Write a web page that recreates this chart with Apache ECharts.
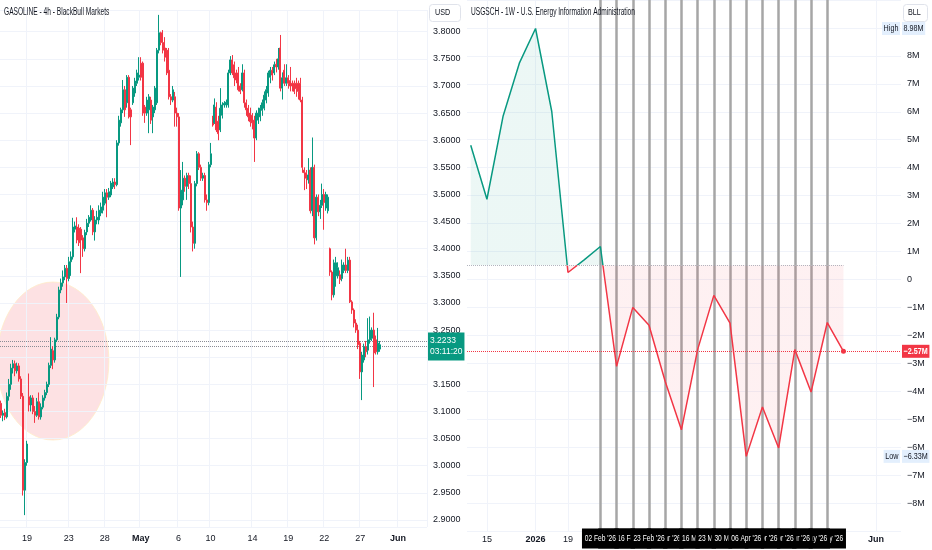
<!DOCTYPE html>
<html><head><meta charset="utf-8">
<script src="https://cdn.jsdelivr.net/npm/echarts@6/dist/echarts.min.js"></script>
<style>html,body{margin:0;padding:0;background:#fff}#c{width:932px;height:550px}</style>
</head><body><div id="c"></div>
<script>
const FONT = "'Liberation Sans','DejaVu Sans',sans-serif";
const TXT = '#131722';
const GRIDC = '#f0f3fa';
const UP = '#089981', DOWN = '#f23645';
const SQ = 0.7; // horizontal squeeze of the reference's lettering

// ---------- Left chart: GASOLINE 4h, [open, close, low, high]
const gasolineOHLC = [
[3.115,3.093,3.088,3.120],[3.093,3.097,3.082,3.102],[3.098,3.090,3.084,3.105],[3.090,3.128,3.087,3.135],
[3.128,3.150,3.120,3.160],[3.150,3.180,3.140,3.188],[3.180,3.188,3.170,3.195],[3.188,3.175,3.165,3.194],
[3.175,3.184,3.170,3.190],[3.184,3.160,3.155,3.189],[3.160,3.128,3.123,3.165],[3.128,2.955,2.945,3.134],
[2.955,3.006,2.909,3.012],[3.006,3.040,3.000,3.046],
[3.127,3.112,3.100,3.170],[3.112,3.125,3.100,3.130],[3.125,3.100,3.095,3.130],[3.100,3.093,3.079,3.110],
[3.093,3.118,3.090,3.125],[3.118,3.090,3.085,3.135],[3.090,3.108,3.085,3.115],[3.108,3.125,3.104,3.130],
[3.125,3.135,3.120,3.140],[3.135,3.150,3.130,3.155],[3.150,3.185,3.145,3.190],[3.185,3.215,3.180,3.237],
[3.212,3.195,3.178,3.220],[3.195,3.232,3.190,3.236],[3.232,3.274,3.228,3.280],[3.274,3.324,3.270,3.330],
[3.324,3.337,3.318,3.345],[3.337,3.348,3.330,3.360],[3.348,3.364,3.342,3.370],[3.364,3.345,3.300,3.370],
[3.345,3.376,3.340,3.385],[3.376,3.385,3.350,3.395],[3.385,3.440,3.380,3.457],[3.436,3.442,3.430,3.450],
[3.440,3.416,3.410,3.458],[3.438,3.411,3.405,3.445],[3.436,3.416,3.355,3.440],[3.420,3.400,3.385,3.425],
[3.400,3.430,3.395,3.435],[3.431,3.447,3.425,3.455],[3.447,3.458,3.440,3.462],[3.453,3.471,3.450,3.480],
[3.471,3.431,3.425,3.475],[3.431,3.453,3.415,3.460],[3.453,3.458,3.445,3.470],[3.453,3.471,3.445,3.480],
[3.466,3.477,3.460,3.485],[3.471,3.495,3.465,3.505],[3.484,3.503,3.480,3.510],[3.503,3.495,3.458,3.510],
[3.495,3.505,3.490,3.512],[3.499,3.521,3.495,3.525],[3.514,3.523,3.510,3.530],[3.523,3.518,3.510,3.530],
[3.518,3.595,3.515,3.600],[3.595,3.637,3.590,3.645],[3.632,3.656,3.625,3.660],[3.656,3.693,3.650,3.711],
[3.693,3.656,3.643,3.700],[3.669,3.716,3.660,3.720],[3.716,3.643,3.640,3.720],[3.656,3.643,3.591,3.660],
[3.669,3.696,3.665,3.700],[3.687,3.709,3.680,3.715],[3.705,3.724,3.700,3.730],[3.716,3.720,3.710,3.753],
[3.742,3.716,3.710,3.753],[3.742,3.650,3.645,3.745],[3.661,3.650,3.632,3.665],[3.650,3.674,3.645,3.680],
[3.656,3.680,3.613,3.685],[3.674,3.637,3.630,3.680],[3.643,3.661,3.613,3.665],[3.656,3.696,3.650,3.700],
[3.669,3.766,3.665,3.770],[3.766,3.798,3.760,3.831],[3.798,3.780,3.775,3.800],[3.780,3.766,3.760,3.803],
[3.770,3.753,3.745,3.790],[3.766,3.724,3.720,3.770],[3.729,3.680,3.675,3.770],[3.680,3.674,3.665,3.685],
[3.674,3.693,3.670,3.700],[3.680,3.650,3.625,3.689],[3.650,3.643,3.625,3.660],[3.643,3.475,3.470,3.650],
[3.475,3.508,3.348,3.545],[3.490,3.530,3.480,3.560],[3.530,3.515,3.505,3.535],[3.515,3.535,3.490,3.540],
[3.535,3.520,3.510,3.540],[3.520,3.440,3.430,3.535],[3.440,3.410,3.395,3.450],[3.410,3.520,3.400,3.525],
[3.520,3.575,3.515,3.580],[3.575,3.550,3.545,3.578],[3.550,3.530,3.525,3.555],[3.530,3.535,3.525,3.540],
[3.535,3.490,3.485,3.540],[3.490,3.485,3.470,3.500],[3.485,3.555,3.480,3.560],[3.555,3.575,3.550,3.595],
[3.641,3.628,3.625,3.645],[3.632,3.665,3.630,3.677],[3.661,3.619,3.615,3.670],[3.635,3.612,3.600,3.645],
[3.619,3.659,3.615,3.696],[3.646,3.665,3.640,3.670],[3.665,3.668,3.660,3.672],[3.665,3.670,3.660,3.675],
[3.665,3.724,3.660,3.730],[3.724,3.748,3.720,3.755],[3.748,3.724,3.720,3.757],[3.739,3.715,3.700,3.745],
[3.724,3.711,3.705,3.730],[3.724,3.693,3.690,3.735],[3.700,3.690,3.685,3.705],[3.693,3.724,3.690,3.740],
[3.724,3.669,3.660,3.730],[3.669,3.656,3.645,3.675],[3.659,3.643,3.635,3.665],[3.650,3.634,3.625,3.660],
[3.646,3.632,3.620,3.650],[3.637,3.604,3.560,3.645],[3.604,3.650,3.600,3.655],[3.637,3.650,3.630,3.660],
[3.643,3.659,3.635,3.665],[3.655,3.669,3.645,3.675],[3.659,3.683,3.655,3.690],[3.674,3.693,3.668,3.700],
[3.687,3.724,3.680,3.728],[3.716,3.729,3.705,3.735],[3.729,3.720,3.710,3.735],[3.724,3.739,3.720,3.745],
[3.740,3.735,3.725,3.750],[3.735,3.750,3.730,3.770],[3.770,3.696,3.690,3.794],[3.696,3.715,3.675,3.725],
[3.729,3.705,3.700,3.740],[3.705,3.715,3.700,3.740],[3.715,3.705,3.695,3.720],[3.710,3.700,3.690,3.735],
[3.705,3.700,3.690,3.710],[3.705,3.690,3.685,3.710],[3.705,3.695,3.680,3.715],[3.705,3.690,3.675,3.710],
[3.705,3.674,3.670,3.715],[3.674,3.550,3.540,3.680],[3.545,3.540,3.508,3.550],[3.540,3.530,3.510,3.545],
[3.527,3.536,3.520,3.567],[3.545,3.470,3.465,3.550],[3.470,3.550,3.460,3.605],[3.550,3.420,3.408,3.555],
[3.420,3.495,3.415,3.500],[3.495,3.468,3.460,3.500],[3.468,3.480,3.455,3.490],[3.480,3.500,3.475,3.520],
[3.500,3.485,3.435,3.510],[3.475,3.500,3.470,3.505],[3.470,3.495,3.465,3.500],
[3.400,3.357,3.350,3.402],[3.357,3.315,3.305,3.360],[3.315,3.374,3.310,3.380],[3.350,3.374,3.330,3.385],
[3.350,3.365,3.345,3.375],[3.352,3.343,3.335,3.360],[3.345,3.370,3.340,3.380],[3.360,3.370,3.355,3.375],
[3.370,3.360,3.355,3.400],[3.360,3.379,3.355,3.385],[3.379,3.302,3.300,3.385],[3.302,3.287,3.280,3.305],
[3.287,3.263,3.255,3.290],[3.263,3.250,3.245,3.270],[3.250,3.223,3.215,3.260],[3.226,3.173,3.160,3.230],
[3.173,3.204,3.121,3.210],[3.195,3.219,3.190,3.225],[3.219,3.210,3.200,3.230],[3.213,3.232,3.205,3.272],
[3.232,3.250,3.225,3.275],[3.235,3.250,3.230,3.255],[3.250,3.208,3.145,3.282],[3.232,3.210,3.205,3.240],
[3.210,3.226,3.205,3.254],[3.215,3.223,3.210,3.230]
];
const leftSlotCount = 214;
const leftTickSlots = [13, 34, 52, 70, 89, 105, 126, 144, 162, 180, 199];
const leftTickLabels = ['19', '23', '28', 'May', '6', '10', '14', '19', '22', '27', 'Jun'];
const leftPriceMin = 2.8871, leftPriceMax = 3.84;
const lastPrice = 3.2233;
const askPrice = 3.2325;
const countdown = '03:11:20';
const circleCenterSlot = 26, circleCenterPrice = 3.193;

// ---------- Right chart: USGSCH weekly change, millions of barrels (week index 0 = 15 Dec 2025)
const stockWeeks    = [-1, 0, 1, 2, 3, 4, 5, 6, 7, 8, 9, 10, 11, 12, 13, 14, 15, 16, 17, 18, 19, 20, 21, 22];
const stockChangeM  = [4.80, 2.87, 5.85, 7.74, 8.98, 6.01, 0.25, 0.70, 1.18, -3.11, -1.00, -1.64, -3.65, -5.38, -2.51, -0.57, -1.56, -6.33, -4.56, -6.03, -2.51, -4.03, -1.54, -2.57];
const baseLevelM = 0.52;
const rightTickWeeks  = [0, 3, 5, 24];
const rightTickLabels = ['15', '2026', '19', 'Jun'];
const eventWeeks  = [7, 8, 9, 10, 11, 12, 13, 14, 15, 16, 17, 18, 19, 20, 21];
const eventLabels = ["02 Feb '26", "09 Feb '26", "16 Feb '26", "23 Feb '26", "02 Mar '26", "09 Mar '26", "16 Mar '26", "23 Mar '26", "30 Mar '26", "06 Apr '26", "13 Apr '26", "20 Apr '26", "27 Apr '26", "04 May '26", "11 May '26"];
const eventDrawOrder = [21, 20, 19, 18, 17, 12, 11, 8, 9, 13, 14, 15, 16, 10, 7];
const highM = 8.98, lowM = -6.33, lastM = -2.57;
const rightXMin = -1.23, rightXMax = 25.55;

const L = {left: 0, right: 505, top: 10, bottom: 23};
const R = {left: 467, right: 31, top: 0, bottom: 19};
const W = 932, H = 550;

const leftCats = Array.from({length: leftSlotCount}, (_, i) => i);
const leftLabelMap = {}; leftTickSlots.forEach((s, i) => leftLabelMap[s] = leftTickLabels[i]);
const rightLabelMap = {}; rightTickWeeks.forEach((w, i) => rightLabelMap[w] = rightTickLabels[i]);
const boldSet = new Set(['May', 'Jun', '2026']);
const fmtM = v => v === 0 ? '0' : ((v < 0 ? '\u2212' : '') + Math.abs(v) + 'M');

const chart = echarts.init(document.getElementById('c'), null, {renderer: 'canvas'});
const option = {
  animation: false,
  backgroundColor: '#ffffff',
  textStyle: {fontFamily: FONT},
  grid: [
    {left: L.left, right: L.right, top: L.top, bottom: L.bottom},
    {left: R.left, right: R.right, top: R.top, bottom: R.bottom}
  ],
  xAxis: [
    {type: 'category', gridIndex: 0, data: leftCats, boundaryGap: true,
     axisLine: {show: false}, axisTick: {show: false},
     axisLabel: {interval: (i) => leftLabelMap[i] !== undefined, margin: 7, fontSize: 9, color: TXT, fontFamily: FONT,
       formatter: (v) => { const t = leftLabelMap[v]; return t === undefined ? '' : (boldSet.has(t) ? '{b|' + t + '}' : t); },
       rich: {b: {fontWeight: 'bold', fontSize: 9, color: TXT, fontFamily: FONT}}},
     splitLine: {show: true, interval: (i) => leftLabelMap[i] !== undefined, lineStyle: {color: GRIDC, width: 1}}},
    {type: 'value', gridIndex: 1, min: rightXMin, max: rightXMax,
     axisLine: {show: false}, axisTick: {show: false, customValues: rightTickWeeks},
     axisLabel: {customValues: rightTickWeeks, margin: 4, fontSize: 9, color: TXT, fontFamily: FONT,
       formatter: (v) => { const t = rightLabelMap[v]; return t === undefined ? '' : (boldSet.has(t) ? '{b|' + t + '}' : t); },
       rich: {b: {fontWeight: 'bold', fontSize: 9, color: TXT, fontFamily: FONT}}},
     splitLine: {show: true, lineStyle: {color: GRIDC, width: 1}}}
  ],
  yAxis: [
    {type: 'value', gridIndex: 0, position: 'right', min: leftPriceMin, max: leftPriceMax, splitNumber: 19,
     axisLine: {show: false}, axisTick: {show: false},
     axisLabel: {margin: 6, fontSize: 9, color: TXT, fontFamily: FONT, showMinLabel: false, showMaxLabel: false,
       formatter: (v) => v.toFixed(4)},
     splitLine: {show: true, lineStyle: {color: GRIDC, width: 1}}},
    {type: 'value', gridIndex: 1, position: 'right', min: -9, max: 10, interval: 1,
     axisLine: {show: false}, axisTick: {show: false},
     axisLabel: {margin: 6, fontSize: 9, color: TXT, fontFamily: FONT,
       formatter: (v) => (v >= -8 && v <= 8) ? fmtM(v) : ''},
     splitLine: {show: true, lineStyle: {color: GRIDC, width: 1}}}
  ],
  series: [
    {
      type: 'candlestick', name: 'GASOLINE', xAxisIndex: 0, yAxisIndex: 0, z: 10,
      data: gasolineOHLC, barWidth: 1.5,
      itemStyle: {color: UP, color0: DOWN, borderColor: UP, borderColor0: DOWN, borderWidth: 1},
      markLine: {
        symbol: 'none', silent: true, animation: false,
        lineStyle: {type: 'dotted', color: '#8a8d96', width: 1},
        data: [
          {yAxis: askPrice, label: {show: false}},
          {yAxis: lastPrice, label: {show: true, position: 'end', distance: 1,
            formatter: lastPrice.toFixed(4) + '\n' + countdown,
            backgroundColor: UP, color: '#ffffff', padding: [3, 2], fontSize: 8.5, lineHeight: 11, fontFamily: FONT}}
        ]
      }
    },
    {
      type: 'line', name: 'events', xAxisIndex: 1, yAxisIndex: 1, data: [], z: 1,
      markLine: {
        symbol: 'none', silent: true, animation: false, z: 1,
        lineStyle: {type: 'solid', color: '#a6a6a6', width: 2.5},
        label: {show: false},
        data: eventWeeks.map(w => ({xAxis: w}))
      }
    },
    {
      type: 'line', id: 'stock', name: 'USGSCH', xAxisIndex: 1, yAxisIndex: 1, z: 3,
      data: stockWeeks.map((w, i) => [w, stockChangeM[i]]),
      lineStyle: {width: 1.5, color: DOWN},
      itemStyle: {color: DOWN},
      showSymbol: true, symbol: 'circle',
      symbolSize: (v, p) => p.dataIndex === stockWeeks.length - 1 ? 5 : 0,
      areaStyle: {origin: baseLevelM, color: 'rgba(242,54,69,0.1)'},
      markLine: {
        symbol: 'none', silent: true, animation: false,
        data: [
          [{coord: [rightXMin, baseLevelM], lineStyle: {type: 'dotted', color: '#b2b5be', width: 1}, label: {show: false}},
           {coord: [stockWeeks[stockWeeks.length - 1], baseLevelM]}],
          {yAxis: lastM, lineStyle: {type: 'dotted', color: DOWN, width: 1}, label: {show: false}}
        ]
      }
    }
  ],
  graphic: [
    {type: 'text', id: 'tL', x: 4, y: 12, scaleX: 0.66, z: 20, style: {text: 'GASOLINE - 4h - BlackBull Markets', fontSize: 10, fontFamily: FONT, fill: TXT, verticalAlign: 'middle'}},
    {type: 'text', id: 'tR', x: 471, y: 12, scaleX: 0.66, z: 20, style: {text: 'USGSCH - 1W - U.S. Energy Information Administration', fontSize: 10, fontFamily: FONT, fill: TXT, verticalAlign: 'middle'}},
    {type: 'rect', id: 'usdBox', z: 20, shape: {x: 429.5, y: 4.5, width: 31, height: 17, r: 3}, style: {fill: '#ffffff', stroke: '#e0e3eb', lineWidth: 1}},
    {type: 'text', id: 'usd', x: 435, y: 13, scaleX: 0.8, z: 21, style: {text: 'USD', fontSize: 9, fontFamily: FONT, fill: TXT, verticalAlign: 'middle'}},
    {type: 'rect', id: 'bllBox', z: 20, shape: {x: 903.5, y: 4.5, width: 24, height: 17, r: 3}, style: {fill: '#ffffff', stroke: '#e0e3eb', lineWidth: 1}},
    {type: 'text', id: 'bll', x: 908, y: 13, scaleX: 0.8, z: 21, style: {text: 'BLL', fontSize: 9, fontFamily: FONT, fill: TXT, verticalAlign: 'middle'}}
  ]
};
chart.setOption(option);

// baseline split colouring (green above the base level, red below) via a global gradient
const yBase = chart.convertToPixel({gridIndex: 1}, [0, baseLevelM])[1];
const f = yBase / H;
const split = (a, b) => ({type: 'linear', x: 0, y: 0, x2: 0, y2: H, global: true,
  colorStops: [{offset: 0, color: a}, {offset: f, color: a}, {offset: f, color: b}, {offset: 1, color: b}]});

// annotations positioned from data coordinates
const c = chart.convertToPixel({gridIndex: 0}, [circleCenterSlot, circleCenterPrice]);
const yHigh = chart.convertToPixel({gridIndex: 1}, [0, highM])[1];
const yLow = chart.convertToPixel({gridIndex: 1}, [0, lowM])[1];
const yLast = chart.convertToPixel({gridIndex: 1}, [0, lastM])[1];
const xEdge = W - R.right;
const tagStyle = {fontSize: 9, fontFamily: FONT, fill: TXT, backgroundColor: '#e3effd', padding: [2, 2], verticalAlign: 'middle'};
const tag = (id, x, y, style) => ({type: 'text', id, x, y, scaleX: 0.8, z: 30, style: Object.assign({}, tagStyle, style)});

const eventTags = eventDrawOrder.map((w, k) => ({
  type: 'text', id: 'ev' + w, z: 40 + k, scaleX: SQ,
  x: chart.convertToPixel({gridIndex: 1}, [w, 0])[0], y: 538.5,
  style: {text: eventLabels[eventWeeks.indexOf(w)], fontSize: 9.5, fontFamily: FONT, fill: '#ffffff',
    backgroundColor: '#000000', padding: [5, 4], align: 'center', verticalAlign: 'middle'}
}));

chart.setOption({
  series: [{id: 'stock',
    lineStyle: {color: split(UP, DOWN)},
    areaStyle: {origin: baseLevelM, color: split('rgba(8,153,129,0.11)', 'rgba(242,54,69,0.10)')}}],
  graphic: [
    {type: 'ellipse', id: 'circ', z: -1, zlevel: 0, silent: true, shape: {cx: c[0], cy: c[1], rx: 56, ry: 79},
     style: {fill: 'rgba(242,54,69,0.15)', stroke: 'rgba(255,236,200,0.8)', lineWidth: 1}},
    tag('hiW', xEdge - 1, yHigh, {text: 'High', align: 'right'}),
    tag('hiV', xEdge + 1, yHigh, {text: highM.toFixed(2) + 'M', align: 'left'}),
    tag('loW', xEdge - 1, yLow, {text: 'Low', align: 'right'}),
    tag('loV', xEdge + 1, yLow, {text: '\u2212' + Math.abs(lowM).toFixed(2) + 'M', align: 'left'}),
    tag('last', xEdge + 1, yLast, {text: fmtM(lastM), align: 'left', fill: '#ffffff', backgroundColor: DOWN, fontWeight: 'bold'})
  ].concat(eventTags)
});
</script>
</body></html>
